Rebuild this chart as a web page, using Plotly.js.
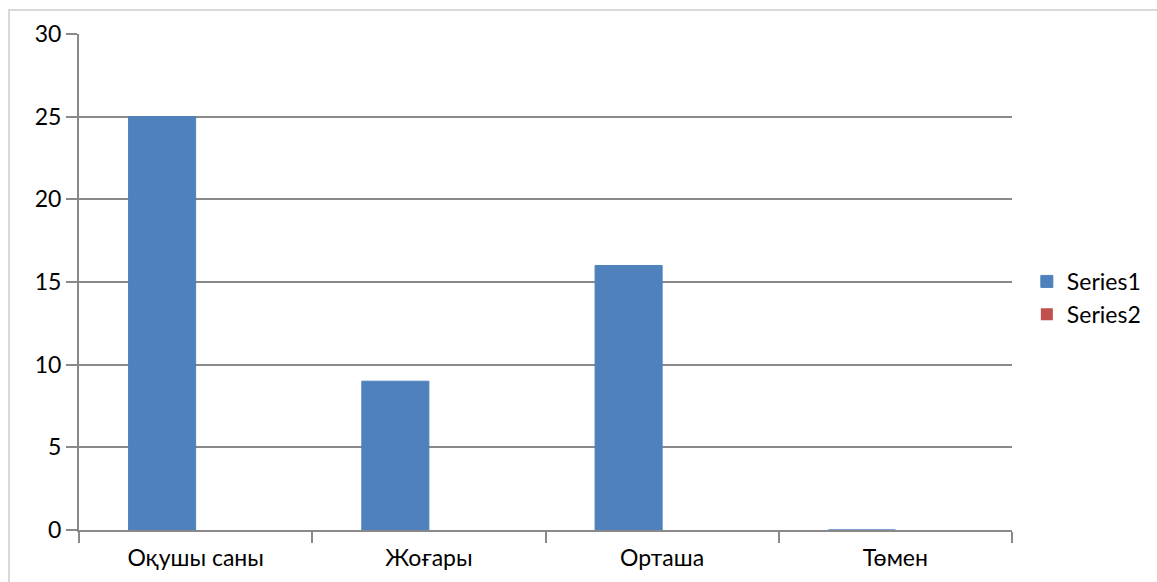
<!DOCTYPE html>
<html>
<head>
<meta charset="utf-8">
<script src="https://cdn.plot.ly/plotly-3.0.1.min.js"></script>
<style>
  html, body { margin: 0; padding: 0; background: #ffffff; }
  #chart { width: 1157px; height: 582px; }
</style>
</head>
<body>
<div id="chart"></div>
<script>
const categories = ["Оқушы саны", "Жоғары", "Орташа", "Төмен"];
const series1 = [25, 9, 16, 0];
const series2 = [0, 0, 0, 0];
const yTicks = [0, 5, 10, 15, 20, 25, 30];

const gridColor = "#898989";
const fontFamily = "Lato, 'Open Sans', sans-serif";
const fontSize = 23;

const traces = [
  {
    type: "bar", name: "Series1", x: categories, y: series1,
    marker: { color: "#4F81BD", line: { color: "#4F81BD", width: 1 } },
    hoverinfo: "none"
  },
  {
    type: "bar", name: "Series2", x: categories, y: series2,
    marker: { color: "#C0504D", line: { width: 0 } },
    hoverinfo: "none"
  }
];

const layout = {
  width: 1157, height: 582,
  margin: { l: 79, r: 145, t: 34, b: 52, pad: 0 },
  paper_bgcolor: "#ffffff", plot_bgcolor: "#ffffff",
  font: { family: fontFamily, size: fontSize, color: "#000000" },
  barmode: "group", bargap: 0.425, bargroupgap: 0,
  showlegend: true,
  legend: {
    xref: "container", yref: "container",
    x: 0.8875, y: 0.488, xanchor: "left", yanchor: "middle",
    font: { family: fontFamily, size: 23, color: "#000000" },
    itemwidth: 30, tracegroupgap: 0, bgcolor: "rgba(0,0,0,0)"
  },
  xaxis: {
    type: "category", categoryorder: "array", categoryarray: categories,
    showline: true, linecolor: gridColor, linewidth: 2,
    ticks: "outside", tickson: "boundaries", ticklen: 11, tickwidth: 2, tickcolor: gridColor,
    ticklabelstandoff: 6,
    showgrid: false, zeroline: false,
    tickfont: { family: fontFamily, size: fontSize, color: "#000000" },
    fixedrange: true
  },
  yaxis: {
    range: [0, 30], tickmode: "array", tickvals: yTicks, ticktext: yTicks.map(String),
    showgrid: true, gridcolor: gridColor, gridwidth: 2,
    showline: true, linecolor: gridColor, linewidth: 2,
    ticks: "outside", ticklen: 11, tickwidth: 2, tickcolor: gridColor,
    zeroline: false,
    tickfont: { family: fontFamily, size: fontSize, color: "#000000" },
    fixedrange: true
  },
  shapes: [
    {
      type: "rect", xref: "paper", yref: "paper",
      x0: (9 - 79) / 933, x1: 1.3, y0: -0.3, y1: (530 - 10) / 496,
      line: { color: "#d9d9d9", width: 2 }, fillcolor: "rgba(0,0,0,0)", layer: "below"
    }
  ]
};

Plotly.newPlot("chart", traces, layout, { displayModeBar: false, staticPlot: true });
</script>
</body>
</html>
